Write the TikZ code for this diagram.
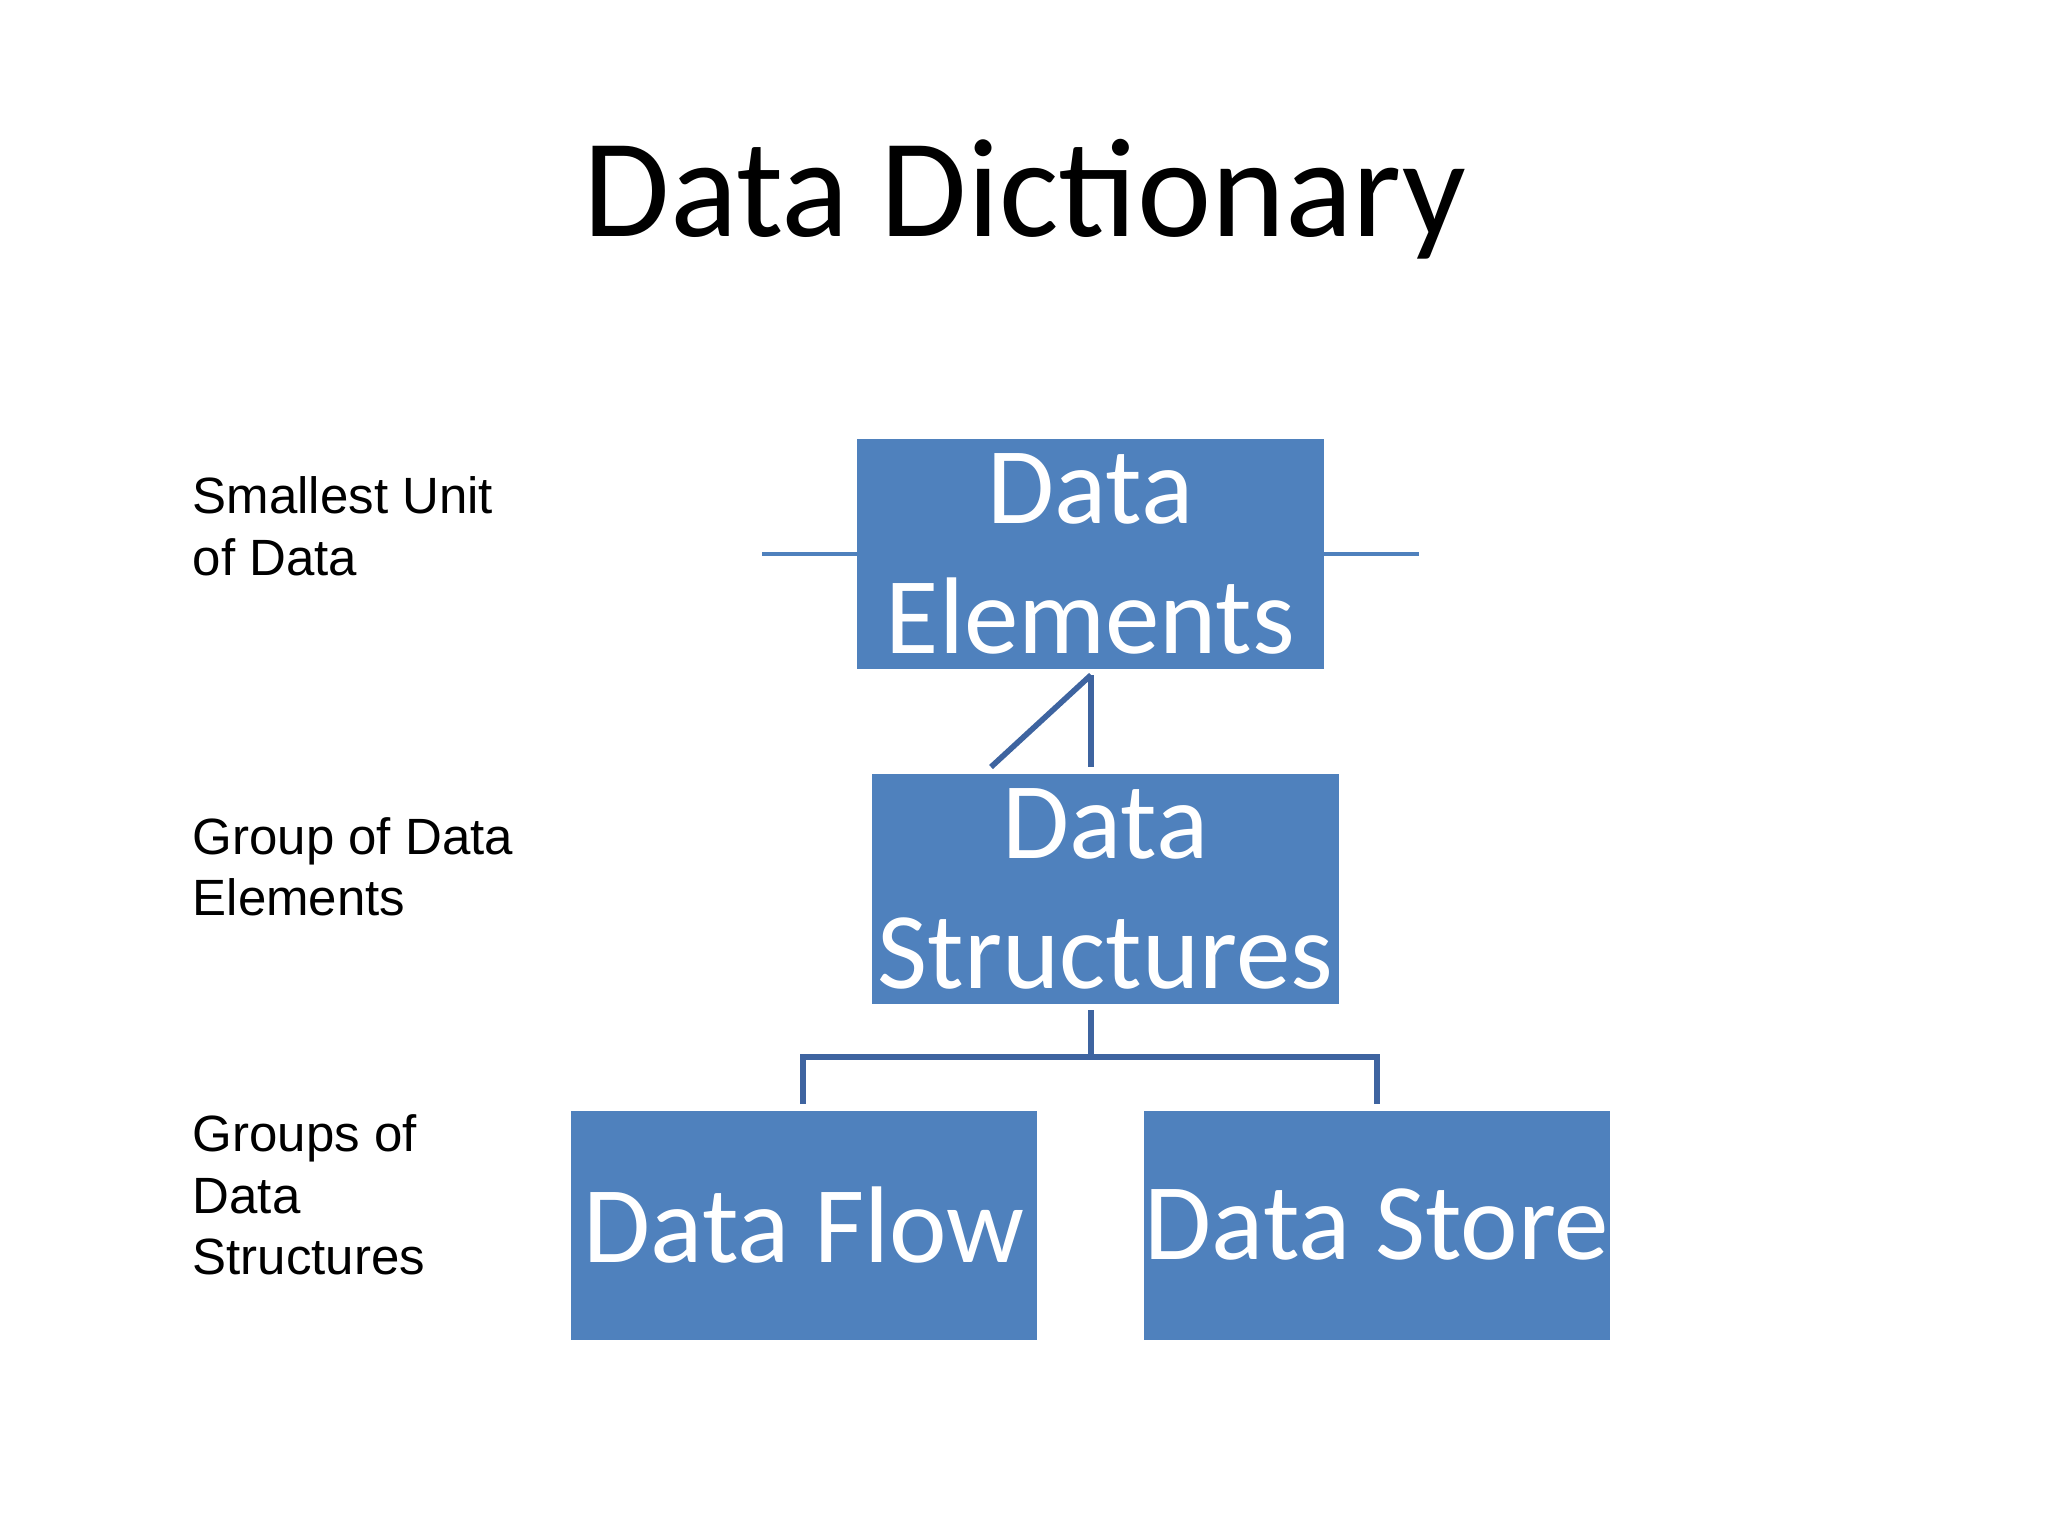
\documentclass[tikz,border=0pt]{standalone}
\usepackage{fontspec}
\setmainfont{Carlito}
\newfontfamily\arialf{Liberation Sans}
\definecolor{boxblue}{HTML}{4F81BD}
\definecolor{lineblue}{HTML}{3E64A0}
\begin{document}
\begin{tikzpicture}[x=0.01cm,y=-0.01cm,
  box/.style={fill=boxblue,draw=none,text=white,align=center,font=\fontsize{31}{37}\selectfont,inner sep=0pt},
  side/.style={anchor=west,align=left,font=\arialf\fontsize{14.5}{17.5}\selectfont,inner sep=0pt},
  conn/.style={draw=lineblue,line width=1.6pt}]
\useasboundingbox (0,0) rectangle (2048,1536);
\node (title) at (1025,199) {\fontsize{40}{48}\selectfont Data Dictionary};
\node[box,minimum width=467\pgflinewidth,text width=4.5cm] (de) at (1090.5,554) {};
\fill[boxblue] (857,439) rectangle (1324,669);
\node[text=white,align=center,font=\fontsize{31}{37}\selectfont] (det) at (1090.5,554) {Data\\Elements};
\fill[boxblue] (872,774) rectangle (1339,1004);
\node[text=white,align=center,font=\fontsize{31}{37}\selectfont] (ds) at (1105.5,889) {Data\\Structures};
\fill[boxblue] (571,1111) rectangle (1037,1340);
\node[text=white,font=\fontsize{31}{37}\selectfont] (df) at (804,1225) {Data Flow};
\fill[boxblue] (1144,1111) rectangle (1610,1340);
\node[text=white,font=\fontsize{31}{37}\selectfont] (dst) at (1377,1225) {Data Store};
\coordinate (a) at (1091,675);
\coordinate (b) at (1091,767);
\coordinate (c) at (991,767);
\coordinate (d) at (1091,1010);
\coordinate (e) at (1091,1057);
\coordinate (f) at (803,1104);
\coordinate (g) at (1377,1104);
\draw[conn] (a) -- (b);
\draw[conn] (a) -- (c);
\draw[conn] (d) -- (e);
\draw[conn] (f) |- (e) -| (g);
\node[side] (l1) at (192,526) {Smallest Unit\\of Data};
\node[side] (l2) at (192,867) {Group of Data\\Elements};
\node[side] (l3) at (192,1195) {Groups of\\Data\\Structures};
\end{tikzpicture}
\end{document}
